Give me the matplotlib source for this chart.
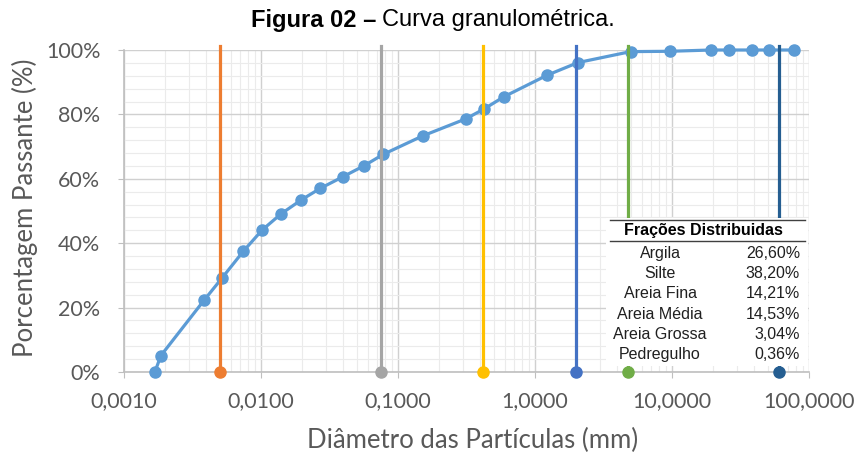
import matplotlib
matplotlib.use("Agg")
import matplotlib.pyplot as plt
from matplotlib.ticker import FixedLocator, MultipleLocator, LogLocator, NullFormatter
from matplotlib.patches import Rectangle

# Dados da curva granulometrica (diametro em mm, porcentagem passante)
diametros = [0.00168, 0.00186, 0.00386, 0.00522, 0.00743, 0.0102, 0.0140, 0.0196,
             0.0270, 0.0399, 0.0568, 0.0781, 0.151, 0.312, 0.425, 0.594,
             1.23, 2.06, 4.99, 9.62, 19.4, 26.1, 38.6, 51.1, 77.8]
passante = [0.0, 5.1, 22.4, 29.3, 37.5, 44.1, 49.1, 53.4,
            57.0, 60.7, 64.1, 67.6, 73.3, 78.6, 81.7, 85.5,
            92.2, 96.1, 99.5, 99.6, 100.0, 100.0, 100.0, 100.0, 100.0]

# Limites das fracoes (linhas verticais)
limites = [0.005, 0.075, 0.42, 2.0, 4.8, 60.0]
cores_limites = ['#ED7D31', '#A5A5A5', '#FFC000', '#4472C4', '#70AD47', '#255E91']

# Tabela de fracoes
fracoes = ['Argila', 'Silte', 'Areia Fina', 'Areia Média', 'Areia Grossa', 'Pedregulho']
valores_fracoes = ['26,60%', '38,20%', '14,21%', '14,53%', '3,04%', '0,36%']

ticks_x = [0.001, 0.01, 0.1, 1, 10, 100]
rotulos_x = ['0,0010', '0,0100', '0,1000', '1,0000', '10,0000', '100,0000']
ticks_y = [0, 20, 40, 60, 80, 100]
rotulos_y = ['0%', '20%', '40%', '60%', '80%', '100%']

W, H = 858, 457
fig = plt.figure(figsize=(W / 100, H / 100), dpi=100)
ax = fig.add_axes([124 / W, 1 - 372 / H, (809 - 124) / W, (372 - 50) / H])

cinza_texto = '#595959'
fonte_eixo = 'Lato'

ax.set_xscale('log')
ax.set_xlim(0.001, 100)
ax.set_ylim(0, 100)

# Grade
ax.xaxis.set_major_locator(FixedLocator(ticks_x))
ax.xaxis.set_minor_locator(LogLocator(base=10, subs=range(2, 10)))
ax.xaxis.set_minor_formatter(NullFormatter())
ax.set_xticklabels(rotulos_x)
ax.set_yticks(ticks_y)
ax.set_yticklabels(rotulos_y)
ax.yaxis.set_minor_locator(MultipleLocator(4))
ax.grid(which='major', color='#D0D0D0', linewidth=1.0, zorder=0)
ax.grid(which='minor', color='#EBEBEB', linewidth=0.8, zorder=0)
ax.set_axisbelow(True)

for lado in ['top', 'right']:
    ax.spines[lado].set_visible(False)
for lado in ['left', 'bottom']:
    ax.spines[lado].set_color('#BFBFBF')
    ax.spines[lado].set_linewidth(1.2)

ax.tick_params(which='major', length=4, color='#BFBFBF', labelcolor=cinza_texto,
               labelsize=15.5)
ax.tick_params(axis='y', pad=13)
ax.tick_params(axis='x', pad=10)
ax.tick_params(which='minor', length=0)
for rotulo in ax.get_xticklabels() + ax.get_yticklabels():
    rotulo.set_fontfamily(fonte_eixo)

# Curva granulometrica
ax.plot(diametros, passante, color='#5B9BD5', linewidth=2.3, marker='o',
        markersize=8, clip_on=False, zorder=3)

# Linhas verticais dos limites
for x, cor in zip(limites, cores_limites):
    ax.plot([x, x], [0, 101.2], color=cor, linewidth=2.3, clip_on=False, zorder=4)
    ax.plot([x], [0], marker='o', color=cor, markersize=8, clip_on=False, zorder=4)

# Caixa da tabela
px = lambda x: x / W
py = lambda y: 1 - y / H
caixa = Rectangle((px(606), py(366)), px(808) - px(606), py(218) - py(366),
                  transform=fig.transFigure, facecolor='white', edgecolor='none', zorder=5)
fig.patches.append(caixa)
fig.add_artist(plt.Line2D([px(610), px(805)], [py(220), py(220)], color='#404040',
                          linewidth=1.0, zorder=6))
fig.add_artist(plt.Line2D([px(610), px(805)], [py(240.5), py(240.5)], color='#404040',
                          linewidth=1.0, zorder=6))
fig.text(px(703), py(230.5), 'Frações Distribuidas', ha='center', va='center',
         fontsize=11.5, fontweight='bold', family='Liberation Sans', zorder=6)
for i, (nome, valor) in enumerate(zip(fracoes, valores_fracoes)):
    y = 253.5 + i * 20.2
    fig.text(px(660), py(y), nome, ha='center', va='center', fontsize=11.5,
             family='Liberation Sans', color='#202020', zorder=6)
    fig.text(px(800), py(y), valor, ha='right', va='center', fontsize=11.5,
             family='Liberation Sans', color='#202020', zorder=6)

# Titulos
fig.text(px(376), py(20), 'Figura 02 –', ha='right', va='center', fontsize=17,
         fontweight='bold', family='Liberation Sans')
fig.text(px(382), py(20), 'Curva granulométrica.', ha='left', va='center',
         fontsize=17, family='Liberation Sans')

fig.text(px(473), py(440), 'Diâmetro das Partículas (mm)', ha='center', va='center',
         fontsize=18.5, color=cinza_texto, family=fonte_eixo)
fig.text(px(25), py(208), 'Porcentagem Passante (%)', ha='center', va='center',
         rotation=90, fontsize=18.5, color=cinza_texto, family=fonte_eixo)

fig.savefig('out.png', dpi=100)
